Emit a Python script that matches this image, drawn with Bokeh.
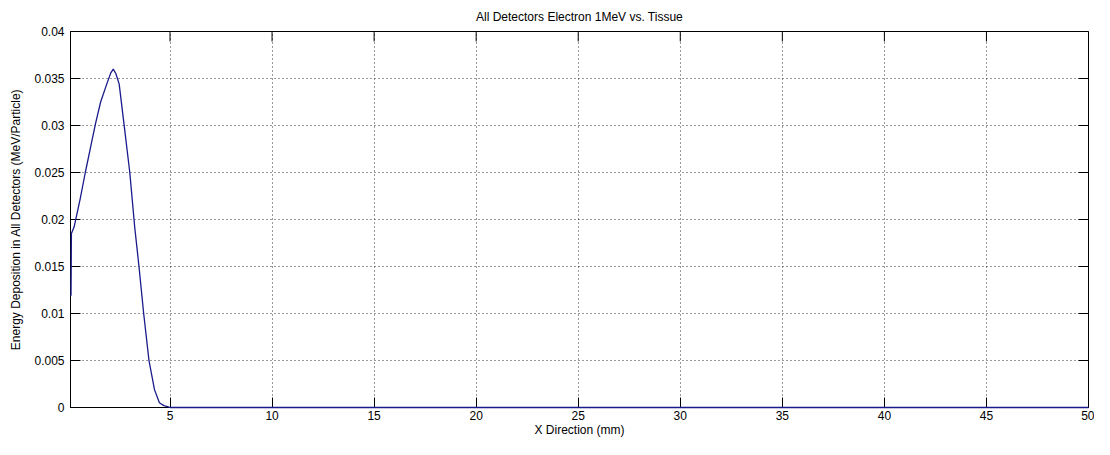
import math
from bokeh.plotting import figure
from bokeh.models import FixedTicker, Range1d
from bokeh.embed import file_html
from bokeh.resources import INLINE

# ---- data ----
x_mm = [0.15, 0.17, 0.30, 0.60, 0.85, 1.10, 1.34, 1.60, 1.90, 2.10, 2.22, 2.35,
        2.51, 2.75, 3.03, 3.27, 3.48, 3.71, 3.97, 4.24, 4.48, 4.70, 4.88, 5.00, 50.0]
energy = [0.0119, 0.0185, 0.0192, 0.0222, 0.0250, 0.0276, 0.0301, 0.0325, 0.0344,
          0.0356, 0.0360, 0.0355, 0.0344, 0.0301, 0.0250, 0.0192, 0.0150, 0.0100,
          0.0050, 0.0019, 0.0005, 0.0002, 0.0001, 0.0, 0.0]
x_ticks = [5, 10, 15, 20, 25, 30, 35, 40, 45, 50]
y_ticks = [0, 0.005, 0.01, 0.015, 0.02, 0.025, 0.03, 0.035, 0.04]
y_tick_labels = ["0", "0.005", "0.01", "0.015", "0.02", "0.025", "0.03", "0.035", "0.04"]

FONT = "Liberation Sans"
FS = "12px"

p = figure(width=1094, height=439, output_backend="svg", toolbar_location=None,
           x_range=Range1d(0.125, x_ticks[-1]), y_range=Range1d(y_ticks[0], y_ticks[-1]),
           min_border_left=70, min_border_right=6, min_border_top=31, min_border_bottom=28,
           title="All Detectors Electron 1MeV vs. Tissue")
p.title.align = "center"
p.title.text_font = FONT
p.title.text_font_size = FS
p.title.text_font_style = "normal"
p.title.text_color = "#000000"
p.title.standoff = 15
p.title.text_line_height = 0.7

p.background_fill_color = "white"
p.border_fill_color = "white"
p.outline_line_color = "black"
p.outline_line_width = 1

xt = FixedTicker(ticks=x_ticks)
yt = FixedTicker(ticks=y_ticks)

for ax in (p.xaxis[0], p.yaxis[0]):
    ax.major_label_text_font = FONT
    ax.major_label_text_font_size = FS
    ax.major_label_text_color = "black"
    ax.axis_label_text_font = FONT
    ax.axis_label_text_font_size = FS
    ax.axis_label_text_font_style = "normal"
    ax.axis_label_text_color = "black"
    ax.major_tick_in = 10
    ax.major_tick_out = 0
    ax.minor_tick_line_color = None
    ax.axis_line_color = "black"
    ax.major_tick_line_color = "black"

p.xaxis[0].ticker = xt
p.yaxis[0].ticker = yt
p.yaxis[0].major_label_overrides = {t: s for t, s in zip(y_ticks, y_tick_labels)}
p.xaxis[0].axis_label = "X Direction (mm)"
p.yaxis[0].axis_label = "Energy Deposition in All Detectors (MeV/Particle)"
p.xaxis[0].major_label_standoff = 3
p.xaxis[0].axis_label_standoff = 0
p.yaxis[0].major_label_standoff = 6
p.yaxis[0].axis_label_standoff = 8

p.xgrid[0].ticker = xt
p.ygrid[0].ticker = yt
for g in (p.xgrid[0], p.ygrid[0]):
    g.grid_line_color = "#333333"
    g.grid_line_dash = "1 3"
    g.grid_line_width = 1

# mirrored inward ticks on top and right (MATLAB box style), clipped to the frame
p.scatter(x_ticks, [y_ticks[-1]] * len(x_ticks), marker="dash", size=20,
          angle=math.pi / 2, line_color="black", line_width=1)
p.scatter([x_ticks[-1]] * len(y_ticks), y_ticks, marker="dash", size=20,
          line_color="black", line_width=1)

p.line(x_mm, energy, line_color="#1a1a8c", line_width=1.3, level="overlay")

open("out.html", "w").write(file_html(p, INLINE))
